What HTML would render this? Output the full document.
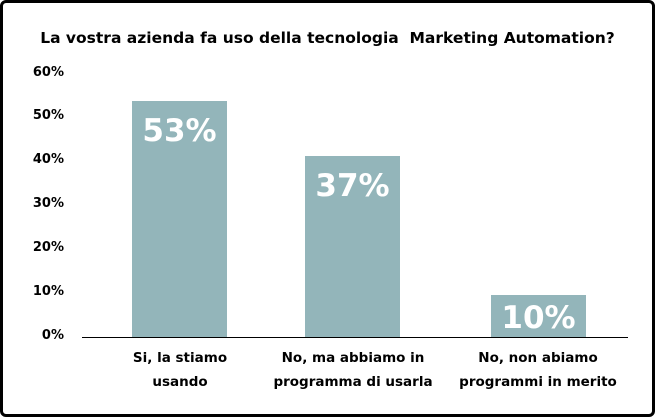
<!DOCTYPE html><html><head><style>
body{margin:0;width:655px;height:417px;overflow:hidden;background:#fff;font-family:"DejaVu Sans","Liberation Sans",sans-serif;}
.f{position:absolute;left:0;top:0;width:649px;height:411px;border:3px solid #000;border-radius:6px;}
.t{position:absolute;left:0;width:655px;top:29px;text-align:center;font-weight:bold;font-size:15.5px;color:#000;}
.y{position:absolute;left:10px;width:54px;text-align:right;font-weight:bold;font-size:13px;}
.b{position:absolute;background:#93b5ba;width:95px;color:#fff;font-weight:bold;font-size:31px;text-align:center;line-height:60px;}
.c{position:absolute;width:180px;text-align:center;font-weight:bold;font-size:13.5px;line-height:24px;top:346px;}
</style></head><body>
<div class="f"></div>
<div class="t">La vostra azienda fa uso della tecnologia&nbsp; Marketing Automation?</div>
<div class="y" style="top:65px">60%</div>
<div class="y" style="top:108px">50%</div>
<div class="y" style="top:152px">40%</div>
<div class="y" style="top:196px">30%</div>
<div class="y" style="top:240px">20%</div>
<div class="y" style="top:284px">10%</div>
<div class="y" style="top:328px">0%</div>
<div class="b" style="left:132px;top:101px;height:237px">53%</div>
<div class="b" style="left:305px;top:156px;height:182px">37%</div>
<div class="b" style="left:491px;top:295px;height:43px;line-height:46px">10%</div>
<div style="position:absolute;left:82px;top:337px;width:546px;height:1px;background:#000"></div>
<div class="c" style="left:90px">Si, la stiamo<br>usando</div>
<div class="c" style="left:263px">No, ma abbiamo in<br>programma di usarla</div>
<div class="c" style="left:448px">No, non abiamo<br>programmi in merito</div>
</body></html>
